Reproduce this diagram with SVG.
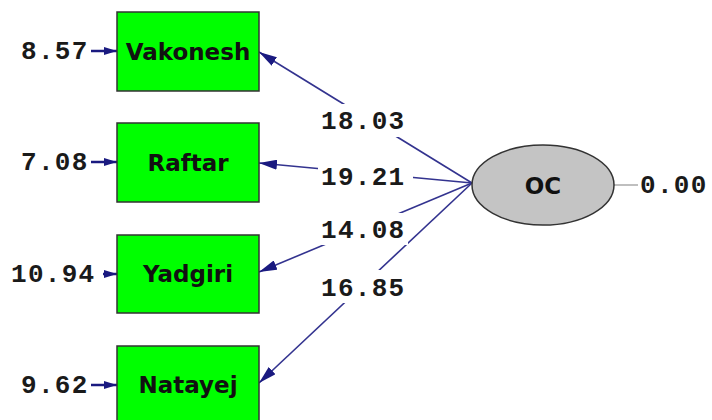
<svg xmlns="http://www.w3.org/2000/svg" width="712" height="420" viewBox="0 0 712 420">
<style>
.box{fill:#00ff00;stroke:#333;stroke-width:1.5}
.lbl{font-family:"DejaVu Sans",Verdana,sans-serif;font-weight:bold;font-size:23px;fill:#111;text-anchor:middle}
.num{font-family:"Liberation Mono","Courier New",monospace;font-weight:bold;font-size:26px;letter-spacing:1.3px;fill:#1a1a1a}
.path{stroke:#33338f;stroke-width:1.6;fill:none}
.err{stroke:#1a1a80;stroke-width:2.5;fill:none}
.bg{fill:#fff}
</style>
<defs>
<marker id="ah" markerUnits="userSpaceOnUse" markerWidth="18" markerHeight="10" refX="18" refY="5" orient="auto">
<path d="M0,0 L18,5 L0,10 z" fill="#1a1a80"/>
</marker>
<marker id="eh" markerUnits="userSpaceOnUse" markerWidth="13" markerHeight="8" refX="13" refY="4" orient="auto">
<path d="M0,0 L13,4 L0,8 z" fill="#1a1a80"/>
</marker>
</defs>
<g id="connectors">
<line class="path" x1="472" y1="183" x2="259" y2="52" marker-end="url(#ah)"/>
<line class="path" x1="472" y1="183" x2="259" y2="163" marker-end="url(#ah)"/>
<line class="path" x1="472" y1="183" x2="259" y2="272" marker-end="url(#ah)"/>
<line class="path" x1="472" y1="183" x2="259" y2="383" marker-end="url(#ah)"/>
<line class="err" x1="91" y1="51" x2="117" y2="51" marker-end="url(#eh)"/>
<line class="err" x1="91" y1="162" x2="117" y2="162" marker-end="url(#eh)"/>
<line class="err" x1="103" y1="274" x2="117" y2="274" marker-end="url(#eh)"/>
<line class="err" x1="91" y1="385" x2="117" y2="385" marker-end="url(#eh)"/>
<line x1="614" y1="185" x2="638" y2="185" stroke="#aaa" stroke-width="1.5"/>
<rect class="bg" x="318" y="104" width="93" height="33"/>
<text class="num" x="321" y="129">18.03</text>
<rect class="bg" x="318" y="161" width="95" height="30"/>
<text class="num" x="321" y="185">19.21</text>
<rect class="bg" x="318" y="213" width="90" height="32"/>
<text class="num" x="321" y="238">14.08</text>
<rect class="bg" x="318" y="270" width="93" height="33"/>
<text class="num" x="321" y="296">16.85</text>
</g>
<g id="Vakonesh">
<rect class="box" x="117" y="12" width="142" height="79"/>
<text class="lbl" x="188" y="60">Vakonesh</text>
<text class="num" x="21" y="59">8.57</text>
</g>
<g id="Raftar">
<rect class="box" x="117" y="123" width="142" height="79"/>
<text class="lbl" x="188" y="171">Raftar</text>
<text class="num" x="21" y="170">7.08</text>
</g>
<g id="Yadgiri">
<rect class="box" x="117" y="235" width="142" height="78"/>
<text class="lbl" x="188" y="282">Yadgiri</text>
<text class="num" x="11" y="282">10.94</text>
</g>
<g id="Natayej">
<rect class="box" x="117" y="346" width="142" height="80"/>
<text class="lbl" x="188" y="393">Natayej</text>
<text class="num" x="21" y="393">9.62</text>
</g>
<g id="OC">
<ellipse cx="543" cy="185" rx="71" ry="40" fill="#c4c4c4" stroke="#333" stroke-width="1.5"/>
<text class="lbl" x="543" y="194">OC</text>
<text class="num" x="640" y="193">0.00</text>
</g>
</svg>
